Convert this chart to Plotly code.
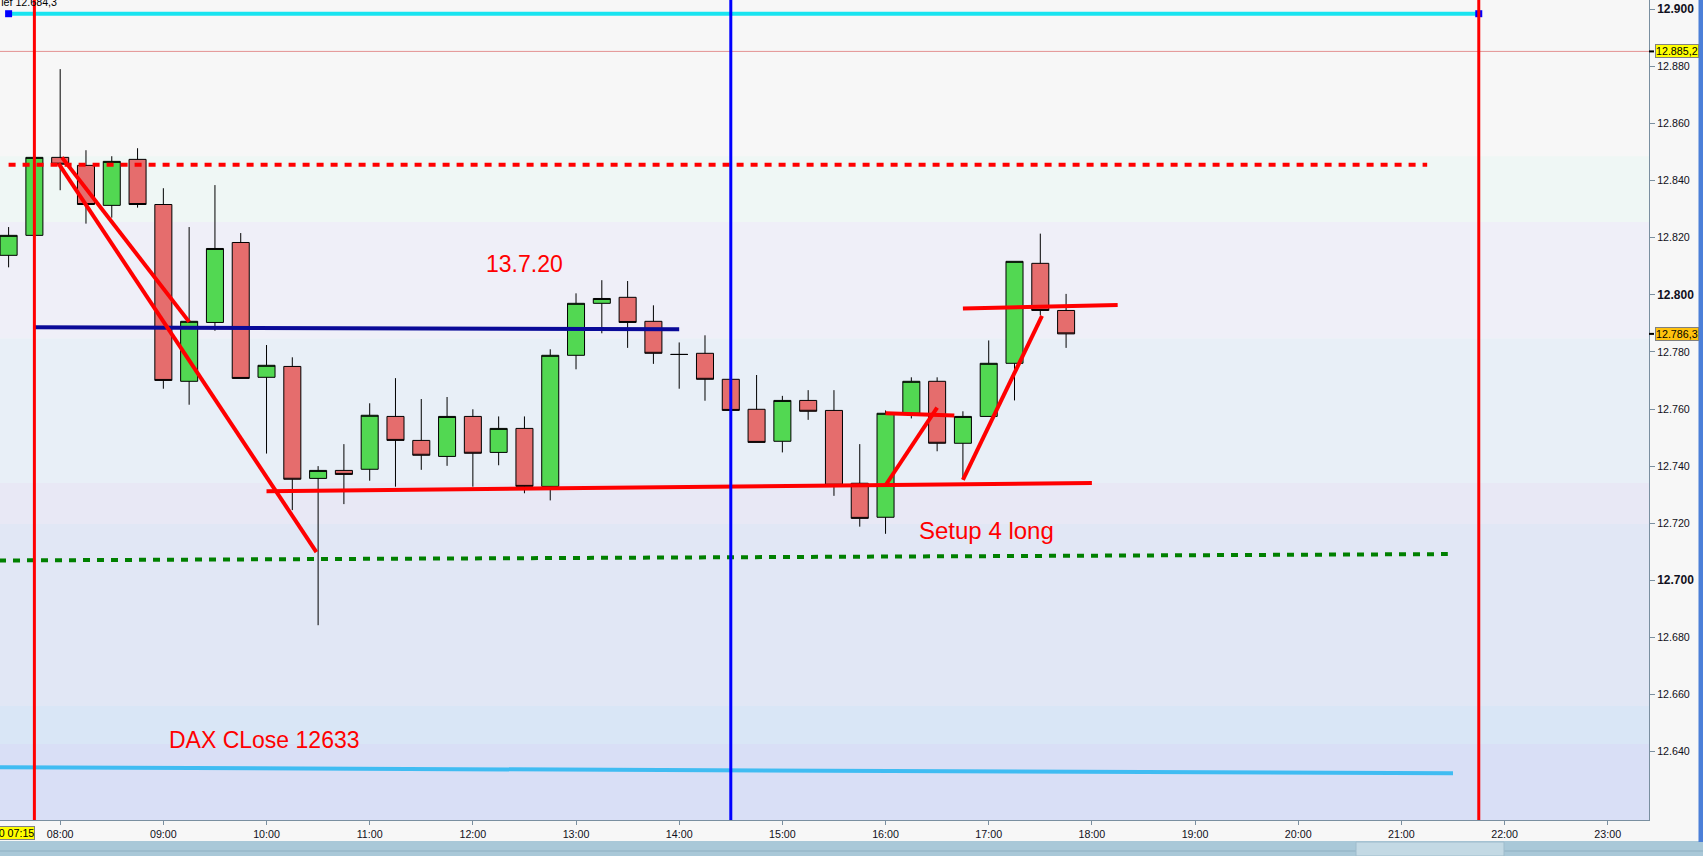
import plotly.graph_objects as go

DAY = "2020-07-13"

# ---------------- data ----------------
candle_times = ["07:30", "07:45", "08:00", "08:15", "08:30", "08:45", "09:00", "09:15",
                "09:30", "09:45", "10:00", "10:15", "10:30", "10:45", "11:00", "11:15",
                "11:30", "11:45", "12:00", "12:15", "12:30", "12:45", "13:00", "13:15",
                "13:30", "13:45", "14:00", "14:15", "14:30", "14:45", "15:00", "15:15",
                "15:30", "15:45", "16:00", "16:15", "16:30", "16:45", "17:00", "17:15",
                "17:30", "17:45"]
opens = [12813.8, 12820.8, 12848.1, 12845.3, 12831.3, 12847.4, 12831.6, 12769.7,
         12790.3, 12818.3, 12771.1, 12774.9, 12735.7, 12738.5, 12738.9, 12757.4,
         12749.0, 12743.4, 12757.4, 12744.8, 12753.2, 12732.9, 12778.8, 12797.0,
         12799.1, 12790.7, 12779.1, 12779.5, 12770.4, 12759.9, 12748.7, 12763.0,
         12759.5, 12734.0, 12722.1, 12758.5, 12769.7, 12748.0, 12757.4, 12776.0,
         12811.0, 12794.5]
highs = [12823.7, 12848.1, 12879.0, 12850.6, 12848.5, 12851.3, 12837.3, 12823.7,
         12838.4, 12821.6, 12782.4, 12778.1, 12740.0, 12747.7, 12762.0, 12770.8,
         12763.5, 12764.2, 12759.9, 12757.4, 12757.4, 12780.9, 12800.5, 12805.1,
         12804.8, 12796.3, 12783.3, 12785.8, 12770.4, 12771.9, 12764.6, 12766.6,
         12766.6, 12747.7, 12759.5, 12771.1, 12771.1, 12759.2, 12784.0, 12811.7,
         12821.4, 12800.3]
lows = [12809.6, 12820.8, 12836.6, 12824.9, 12827.0, 12830.5, 12767.1, 12761.5,
        12787.4, 12770.7, 12744.4, 12724.6, 12684.3, 12726.7, 12734.9, 12732.8,
        12738.7, 12740.1, 12732.8, 12740.3, 12730.5, 12728.0, 12773.9, 12786.5,
        12781.4, 12775.8, 12767.1, 12762.9, 12759.5, 12748.3, 12744.8, 12756.2,
        12729.6, 12718.8, 12716.3, 12756.7, 12745.2, 12735.4, 12757.4, 12763.0,
        12792.8, 12781.4]
closes = [12820.8, 12848.1, 12845.7, 12831.6, 12846.7, 12831.6, 12770.0, 12790.7,
          12816.2, 12770.7, 12775.3, 12735.4, 12738.5, 12737.1, 12757.8, 12749.0,
          12743.8, 12757.4, 12744.5, 12753.2, 12732.9, 12778.8, 12797.0, 12798.7,
          12790.3, 12779.5, 12779.1, 12770.4, 12759.5, 12748.3, 12763.0, 12759.2,
          12733.3, 12721.7, 12758.5, 12769.7, 12748.0, 12757.4, 12776.0, 12811.7,
          12794.5, 12786.3]

hour_ticks = ["08:00", "09:00", "10:00", "11:00", "12:00", "13:00", "14:00", "15:00",
              "16:00", "17:00", "18:00", "19:00", "20:00", "21:00", "22:00", "23:00"]
price_ticks = [12640, 12660, 12680, 12700, 12720, 12740, 12760, 12780, 12800,
               12820, 12840, 12860, 12880, 12900]
price_tick_labels = ["12.640", "12.660", "12.680", "12.700", "12.720", "12.740", "12.760",
                     "12.780", "12.800", "12.820", "12.840", "12.860", "12.880", "12.900"]
bold_ticks = [12700, 12800, 12900]

# horizontal levels (time pairs / price pairs)
cyan_times, cyan_prices = ["07:30", "21:45"], [12898.4, 12898.4]
day_high_price, day_high_label = 12885.2, "12.885,2"
res_times, res_prices = ["07:30", "21:15"], [12845.5, 12845.5]
pivot_times, pivot_prices = ["07:45", "14:00"], [12788.6, 12787.9]
green_times, green_prices = ["07:00", "21:27"], [12706.9, 12709.2]
dax_times, dax_prices = ["07:00", "21:30"], [12634.6, 12632.5]
last_price, last_label = 12786.3, "12.786,3"
day_low_label = "Tief 12.684,3"
start_label = "13.07.20 07:15"

# hand-drawn red trend lines: (t0, p0, t1, p1)
red_segments = [
    ("08:01", 12848.1, "09:15", 12790.5),
    ("07:59", 12846.0, "10:29", 12709.9),
    ("10:00", 12731.2, "18:00", 12734.1),
    ("16:00", 12758.5, "16:40", 12757.7),
    ("16:00", 12733.3, "16:30", 12760.5),
    ("16:45", 12735.2, "17:31", 12792.6),
    ("16:45", 12795.2, "18:15", 12796.4),
]
red_vlines = ["07:45", "21:45"]
blue_vlines = ["14:30"]

# background zones (price edges top->bottom) and colors
band_edges = [12910, 12848.5, 12825.5, 12784.8, 12734.1, 12719.7, 12656.0, 12642.7, 12600]
band_colors = ["#f7f7f7", "#eff7f5", "#efeff8", "#e8eff7", "#e8e8f5", "#e1e7f5",
               "#d9e6f6", "#d9dff6"]

texts = [("13.7.20", "12:30", 12810.7, 23),
         ("Setup 4 long", "16:59", 12717.3, 24),
         ("DAX CLose 12633", "09:59", 12644.1, 23)]


def t(hm):
    return f"{DAY} {hm}:00"


FONT = "Arial, 'Liberation Sans', sans-serif"

fig = go.Figure()

fig.add_trace(go.Candlestick(
    x=[t(s) for s in candle_times], open=opens, high=highs, low=lows, close=closes,
    increasing=dict(fillcolor="#52d852", line=dict(color="#000000", width=1)),
    decreasing=dict(fillcolor="#e56d6d", line=dict(color="#000000", width=1)),
    whiskerwidth=0, showlegend=False, hoverinfo="skip"))

fig.add_trace(go.Scatter(x=[t(s) for s in res_times], y=res_prices, mode="lines",
                         line=dict(color="#ff0000", width=4, dash="7px,7px"), hoverinfo="skip"))
fig.add_trace(go.Scatter(x=[t(s) for s in green_times], y=green_prices, mode="lines",
                         line=dict(color="#008000", width=4, dash="7px,7px"), hoverinfo="skip"))
fig.add_trace(go.Scatter(x=[t(s) for s in dax_times], y=dax_prices, mode="lines",
                         line=dict(color="#40bcf2", width=4), hoverinfo="skip"))
fig.add_trace(go.Scatter(x=[t(s) for s in pivot_times], y=pivot_prices, mode="lines",
                         line=dict(color="#0a0a98", width=4), hoverinfo="skip"))
fig.add_trace(go.Scatter(x=[t(s) for s in cyan_times], y=cyan_prices, mode="lines",
                         line=dict(color="#18e4f0", width=4), hoverinfo="skip"))
fig.add_trace(go.Scatter(x=[t(s) for s in cyan_times], y=cyan_prices, mode="markers",
                         marker=dict(symbol="square", size=7, color="#0000ff"),
                         hoverinfo="skip", cliponaxis=False))

for t0, p0, t1, p1 in red_segments:
    fig.add_trace(go.Scatter(x=[t(t0), t(t1)], y=[p0, p1], mode="lines",
                             line=dict(color="#ff0000", width=4), hoverinfo="skip"))

shapes = []
for i, col in enumerate(band_colors):
    shapes.append(dict(type="rect", xref="paper", yref="y", x0=0, x1=1,
                       y0=band_edges[i + 1], y1=band_edges[i], fillcolor=col,
                       line=dict(width=0), layer="below"))
shapes.append(dict(type="line", xref="paper", yref="y", x0=0, x1=1,
                   y0=day_high_price, y1=day_high_price,
                   line=dict(color="#e39393", width=1), layer="below"))
for v in red_vlines:
    shapes.append(dict(type="line", xref="x", yref="paper", x0=t(v), x1=t(v), y0=0, y1=1,
                       line=dict(color="#ff0000", width=3)))
for v in blue_vlines:
    shapes.append(dict(type="line", xref="x", yref="paper", x0=t(v), x1=t(v), y0=0, y1=1,
                       line=dict(color="#0000ff", width=3)))
for p in [day_high_price, last_price]:
    shapes.append(dict(type="line", xref="paper", yref="y", x0=1, x1=1 + 5 / 1649,
                       y0=p, y1=p, line=dict(color="#000000", width=2)))
# window chrome: bottom toolbar and right border strip
shapes.append(dict(type="rect", xref="paper", yref="paper", x0=0, x1=1703 / 1649,
                   y0=-36 / 820, y1=-21 / 820, fillcolor="#a9c8d8",
                   line=dict(width=0)))
shapes.append(dict(type="line", xref="paper", yref="paper", x0=0, x1=1703 / 1649,
                   y0=-31 / 820, y1=-31 / 820, line=dict(color="#8fb0c2", width=1)))
shapes.append(dict(type="rect", xref="paper", yref="paper", x0=1356 / 1649, x1=1504 / 1649,
                   y0=-36 / 820, y1=-22 / 820, fillcolor="#c3d9e4",
                   line=dict(color="#9fbccc", width=1)))
shapes.append(dict(type="rect", xref="paper", yref="paper", x0=1698.5 / 1649, x1=1703 / 1649,
                   y0=-22 / 820, y1=1, fillcolor="#4b7fd8", line=dict(width=0)))

annotations = []
for txt, tm, pr, sz in texts:
    annotations.append(dict(x=t(tm), y=pr, xref="x", yref="y", text=txt, showarrow=False,
                            font=dict(family=FONT, size=sz, color="#ff0000"),
                            xanchor="center", yanchor="middle"))
annotations.append(dict(x=1, y=day_high_price, xref="paper", yref="y",
                        text=day_high_label, showarrow=False, xanchor="left", xshift=6,
                        font=dict(family=FONT, size=10.7, color="#000000"),
                        bgcolor="#ffff00", bordercolor="#808080", borderwidth=1, borderpad=0))
annotations.append(dict(x=1, y=last_price, xref="paper", yref="y",
                        text=last_label, showarrow=False, xanchor="left", xshift=6,
                        font=dict(family=FONT, size=10.7, color="#000000"),
                        bgcolor="#ffc20e", bordercolor="#808080", borderwidth=1, borderpad=0))
annotations.append(dict(x=0, y=1, xref="paper", yref="paper", text=day_low_label,
                        showarrow=False, xanchor="left", yanchor="middle", xshift=-7, yshift=-2,
                        font=dict(family=FONT, size=10.7, color="#000000")))
annotations.append(dict(x=0, y=0, xref="paper", yref="paper", text=start_label,
                        showarrow=False, xanchor="right", yanchor="top", xshift=35, yshift=-6,
                        font=dict(family=FONT, size=10.7, color="#000000"),
                        bgcolor="#ffff00", bordercolor="#808080", borderwidth=1, borderpad=0))

ticktext = [f"<span style='font-size:12px'><b>{lab}</b></span>" if v in bold_ticks else lab
            for v, lab in zip(price_ticks, price_tick_labels)]

fig.update_layout(
    width=1703, height=856,
    margin=dict(l=0, r=54, t=0, b=36),
    paper_bgcolor="#f7f7f7", plot_bgcolor="#f7f7f7",
    showlegend=False, boxgap=0.34, boxgroupgap=0,
    shapes=shapes, annotations=annotations,
    font=dict(family=FONT, size=10.7, color="#101020"),
    xaxis=dict(type="date", range=[t("07:25"), f"{DAY} 23:24:00"],
               tickvals=[t(h) for h in hour_ticks], ticktext=hour_ticks,
               ticks="outside", ticklen=4, tickcolor="#7a8fa0",
               showline=True, linecolor="#7a8fa0", linewidth=1,
               showgrid=False, zeroline=False, rangeslider=dict(visible=False),
               tickfont=dict(family=FONT, size=10.7, color="#101020")),
    yaxis=dict(side="right", range=[12616.1, 12903.2],
               tickvals=price_ticks, ticktext=ticktext,
               ticks="outside", ticklen=5, tickcolor="#7a8fa0",
               showline=True, linecolor="#7a8fa0", linewidth=1,
               showgrid=False, zeroline=False,
               tickfont=dict(family=FONT, size=10.7, color="#101020")),
)

fig.write_html("out.html", config={"displayModeBar": False},
               post_script="document.body.style.margin='0';document.body.style.overflow='hidden';")
